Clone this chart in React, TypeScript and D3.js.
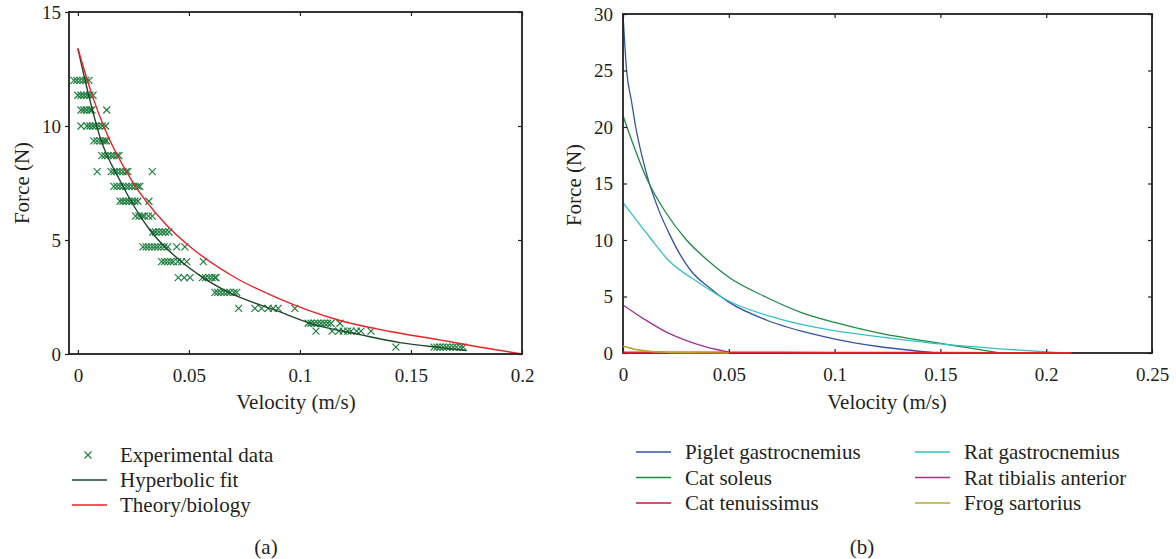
import React, { useEffect, useRef } from 'react'
import * as d3 from 'd3'

// ---- panel (a): experimental force-velocity data, rows of equal force ----
const expRows: [number, number[]][] = [
  [12.0, [-0.0018, -0.0005, 0.0009, 0.0023, 0.0036, 0.005]],
  [11.35, [0, 0.0014, 0.0027, 0.004, 0.0054, 0.0068]],
  [10.7, [0.0014, 0.0027, 0.004, 0.0054, 0.0063, 0.013]],
  [10.0, [0.0014, 0.0041, 0.0054, 0.0068, 0.008, 0.0095, 0.011, 0.0125]],
  [9.35, [0.0072, 0.0086, 0.01, 0.0113, 0.0122, 0.013]],
  [8.7, [0.0108, 0.0122, 0.0135, 0.015, 0.0162, 0.0176, 0.0185]],
  [8.0, [0.0087, 0.015, 0.0163, 0.0176, 0.019, 0.0203, 0.0217, 0.0225, 0.0335]],
  [7.35, [0.0162, 0.0176, 0.019, 0.0203, 0.0217, 0.023, 0.0244, 0.0257, 0.027, 0.0279]],
  [6.7, [0.019, 0.0203, 0.0217, 0.023, 0.0244, 0.0257, 0.027, 0.032]],
  [6.05, [0.026, 0.0275, 0.029, 0.03, 0.0318, 0.0335]],
  [5.35, [0.0338, 0.035, 0.0365, 0.038, 0.0394, 0.041]],
  [4.7, [0.0293, 0.0307, 0.032, 0.0334, 0.0347, 0.036, 0.0374, 0.0388, 0.0405, 0.0445, 0.0482]],
  [4.05, [0.0377, 0.039, 0.0404, 0.0418, 0.043, 0.045, 0.0467, 0.049, 0.0565]],
  [3.35, [0.0452, 0.0479, 0.0505, 0.0561, 0.0575, 0.059, 0.0604, 0.0617, 0.0622]],
  [2.7, [0.0617, 0.063, 0.0644, 0.0658, 0.0672, 0.0685, 0.0703, 0.0715]],
  [2.0, [0.0724, 0.0797, 0.0827, 0.0857, 0.088, 0.0902, 0.0977]],
  [1.35, [0.1037, 0.105, 0.1065, 0.108, 0.1095, 0.111, 0.1125, 0.114, 0.118]],
  [1.0, [0.1072, 0.1145, 0.1175, 0.1195, 0.1215, 0.123, 0.1255, 0.1275, 0.132]],
  [0.3, [0.1432, 0.1604, 0.1617, 0.163, 0.1645, 0.166, 0.1675, 0.169, 0.1705, 0.1722, 0.1735]],
]

const fitV = [0, 0.005, 0.01, 0.019, 0.0324, 0.046, 0.055, 0.068, 0.0895, 0.106, 0.127, 0.145, 0.163, 0.175]
const fitF = [13.4, 11.3, 9.5, 7.6, 5.44, 4.1, 3.44, 2.7, 1.9, 1.3, 0.85, 0.5, 0.28, 0.15]

const theoryV = [0, 0.0066, 0.012, 0.024, 0.04, 0.05, 0.07, 0.09, 0.118, 0.14, 0.163, 0.18, 0.2]
const theoryF = [13.4, 11.3, 9.9, 7.65, 5.65, 4.75, 3.4, 2.45, 1.47, 1.0, 0.62, 0.32, 0]

// ---- panel (b): force-velocity curves per muscle ----
const pigletV = [0, 0.0017, 0.004, 0.006, 0.009, 0.012, 0.017, 0.022, 0.027, 0.032, 0.041, 0.05, 0.068, 0.095, 0.148]
const pigletF = [30, 25, 22.3, 20, 17.4, 15.3, 12.6, 10.5, 8.7, 7.3, 5.75, 4.5, 2.9, 1.45, 0]

const catSoleusV = [0, 0.0118, 0.02, 0.03, 0.04, 0.05, 0.067, 0.084, 0.1, 0.12, 0.15, 0.165, 0.178]
const catSoleusF = [21, 15.2, 12.5, 10.0, 8.2, 6.7, 5.0, 3.6, 2.7, 1.8, 0.85, 0.4, 0]

const catTenV = [0, 0.05, 0.1, 0.15, 0.212]
const catTenF = [0.05, 0.04, 0.03, 0.015, 0]

const ratGasV = [0, 0.0128, 0.021, 0.036, 0.05, 0.0742, 0.099, 0.125, 0.15, 0.18, 0.208]
const ratGasF = [13.3, 10.2, 8.3, 6.2, 4.6, 3.0, 2.0, 1.35, 0.8, 0.35, 0]

const ratTibV = [0, 0.01, 0.021, 0.03, 0.04, 0.047, 0.052]
const ratTibF = [4.25, 3.0, 1.8, 1.1, 0.5, 0.2, 0]

const frogV = [0, 0.005, 0.01, 0.02, 0.03, 0.05]
const frogF = [0.6, 0.35, 0.2, 0.06, 0.02, 0]

const seriesB = [
  { name: 'Piglet gastrocnemius', v: pigletV, f: pigletF, color: '#3552a6' },
  { name: 'Cat soleus', v: catSoleusV, f: catSoleusF, color: '#1f8a42' },
  { name: 'Cat tenuissimus', v: catTenV, f: catTenF, color: '#c8193f' },
  { name: 'Rat gastrocnemius', v: ratGasV, f: ratGasF, color: '#33c2c4' },
  { name: 'Rat tibialis anterior', v: ratTibV, f: ratTibF, color: '#a2318f' },
  { name: 'Frog sartorius', v: frogV, f: frogF, color: '#b7a92e' },
]

const xTicksA = [0, 0.05, 0.1, 0.15, 0.2]
const yTicksA = [0, 5, 10, 15]
const xTicksB = [0, 0.05, 0.1, 0.15, 0.2, 0.25]
const yTicksB = [0, 5, 10, 15, 20, 25, 30]

const FONT = '"Liberation Serif", "Times New Roman", serif'
const INK = '#231f20'
const EXP_GREEN = '#1f7f40'
const FIT_GREEN = '#1d4a2c'
const THEORY_RED = '#e82229'

const App = () => {
  const ref = useRef<SVGSVGElement>(null)

  useEffect(() => {
    const svg = d3.select(ref.current)
    svg.selectAll('*').remove()

    const xA = d3.scaleLinear().domain([-0.004, 0.2]).range([69, 522])
    const yA = d3.scaleLinear().domain([0, 15]).range([354, 12])
    const xB = d3.scaleLinear().domain([0, 0.25]).range([623, 1152])
    const yB = d3.scaleLinear().domain([0, 30]).range([353, 14])

    const drawFrame = (x, y, xt, yt, yOut) => {
      const [x0, x1] = x.range()
      const [y0, y1] = y.range()
      const g = svg.append('g').attr('font-family', FONT).attr('fill', INK)

      // x axis bottom (ticks inward)
      const bx = g.append('g').attr('transform', `translate(0,${y0})`)
        .call(d3.axisBottom(x).tickValues(xt).tickSizeInner(-4).tickSizeOuter(0).tickPadding(15).tickFormat(d3.format('')))
      // x axis top mirror
      g.append('g').attr('transform', `translate(0,${y1})`)
        .call(d3.axisTop(x).tickValues(xt).tickSizeInner(-4).tickSizeOuter(0).tickFormat(() => ''))
      // y axis left
      const by = g.append('g').attr('transform', `translate(${x0},0)`)
        .call(d3.axisLeft(y).tickValues(yt).tickSizeInner(yOut ? 4 : -4).tickSizeOuter(0).tickPadding(yOut ? 4 : 10))
      // y axis right mirror
      g.append('g').attr('transform', `translate(${x1},0)`)
        .call(d3.axisRight(y).tickValues(yt).tickSizeInner(-4).tickSizeOuter(0).tickFormat(() => ''))

      g.selectAll('.domain').remove()
      g.selectAll('.tick line').attr('stroke', INK).attr('stroke-width', 1.2)
      bx.selectAll('text').attr('font-size', 19).attr('fill', INK).attr('font-family', FONT)
      by.selectAll('text').attr('font-size', 19).attr('fill', INK).attr('font-family', FONT)

      g.append('rect')
        .attr('x', x0).attr('y', y1)
        .attr('width', x1 - x0).attr('height', y0 - y1)
        .attr('fill', 'none').attr('stroke', INK).attr('stroke-width', 1.8)
    }

    // ---------- panel (a) ----------
    const pA = svg.append('g')
    const pts = expRows.flatMap(([f, vs]) => vs.map(v => ({ v, f })))
    const xMark = 3.5
    pA.append('g').selectAll('path').data(pts).enter().append('path')
      .attr('d', d => {
        const cx = xA(d.v), cy = yA(d.f)
        return `M${cx - xMark},${cy - xMark}L${cx + xMark},${cy + xMark}M${cx - xMark},${cy + xMark}L${cx + xMark},${cy - xMark}`
      })
      .attr('stroke', EXP_GREEN).attr('stroke-width', 1.2).attr('fill', 'none')

    const lineA = d3.line<number>().curve(d3.curveMonotoneX)
    pA.append('path')
      .attr('d', lineA.x((_, i) => xA(fitV[i])).y(d => yA(d))(fitF))
      .attr('stroke', FIT_GREEN).attr('stroke-width', 1.4).attr('fill', 'none')
    pA.append('path')
      .attr('d', lineA.x((_, i) => xA(theoryV[i])).y(d => yA(d))(theoryF))
      .attr('stroke', THEORY_RED).attr('stroke-width', 1.4).attr('fill', 'none')

    drawFrame(xA, yA, xTicksA, yTicksA, true)

    // ---------- panel (b) ----------
    const lineB = s => d3.line<number>().curve(d3.curveMonotoneX)
      .x((_, k) => xB(s.v[k])).y(d => yB(d))(s.f)
    const pB = svg.append('g')
    ;[0, 1, 3, 4, 5].forEach(i => {
      const s = seriesB[i]
      pB.append('path').attr('d', lineB(s))
        .attr('stroke', s.color).attr('stroke-width', 1.3).attr('fill', 'none')
    })

    drawFrame(xB, yB, xTicksB, yTicksB, false)

    // cat tenuissimus lies on the zero line, drawn over the frame
    svg.append('path').attr('d', lineB(seriesB[2]))
      .attr('stroke', '#e0202e').attr('stroke-width', 2).attr('fill', 'none')
    svg.append('path').attr('d', lineB(seriesB[5]))
      .attr('stroke', seriesB[5].color).attr('stroke-width', 1.3).attr('fill', 'none')

    // ---------- labels ----------
    const lab = svg.append('g').attr('font-family', FONT).attr('fill', INK).attr('font-size', 21)
    lab.append('text').text('Velocity (m/s)').attr('x', 296).attr('y', 402).attr('dy', '0.35em').attr('text-anchor', 'middle')
    lab.append('text').text('Velocity (m/s)').attr('x', 887).attr('y', 402).attr('dy', '0.35em').attr('text-anchor', 'middle')
    lab.append('text').text('Force (N)').attr('transform', 'translate(22,183) rotate(-90)').attr('dy', '0.35em').attr('text-anchor', 'middle')
    lab.append('text').text('Force (N)').attr('transform', 'translate(574,185) rotate(-90)').attr('dy', '0.35em').attr('text-anchor', 'middle')
    lab.append('text').text('(a)').attr('x', 266).attr('y', 547).attr('dy', '0.35em').attr('text-anchor', 'middle')
    lab.append('text').text('(b)').attr('x', 862).attr('y', 547).attr('dy', '0.35em').attr('text-anchor', 'middle')

    // legend (a)
    const legA = [
      { name: 'Experimental data', color: EXP_GREEN, marker: true },
      { name: 'Hyperbolic fit', color: FIT_GREEN, marker: false },
      { name: 'Theory/biology', color: THEORY_RED, marker: false },
    ]
    legA.forEach((d, i) => {
      const cy = 455 + i * 25
      if (d.marker) {
        lab.append('path')
          .attr('d', `M${88 - xMark},${cy - xMark}L${88 + xMark},${cy + xMark}M${88 - xMark},${cy + xMark}L${88 + xMark},${cy - xMark}`)
          .attr('stroke', d.color).attr('stroke-width', 1.2)
      } else {
        lab.append('line').attr('x1', 72).attr('x2', 107).attr('y1', cy).attr('y2', cy)
          .attr('stroke', d.color).attr('stroke-width', 1.4)
      }
      lab.append('text').text(d.name).attr('x', 120).attr('y', cy).attr('dy', '0.35em')
    })

    // legend (b), column-major
    seriesB.forEach((s, i) => {
      const col = Math.floor(i / 3)
      const row = i % 3
      const cy = 452 + row * 25.5
      const lx = col === 0 ? 636 : 915
      lab.append('line').attr('x1', lx).attr('x2', lx + 35).attr('y1', cy).attr('y2', cy)
        .attr('stroke', s.color).attr('stroke-width', 1.4)
      lab.append('text').text(s.name).attr('x', lx + 49).attr('y', cy).attr('dy', '0.35em')
    })
  }, [])

  return (
    <svg
      ref={ref}
      width={1176}
      height={559}
      style={{ position: 'absolute', left: 0, top: 0, background: '#fff' }}
    />
  )
}

export default App
